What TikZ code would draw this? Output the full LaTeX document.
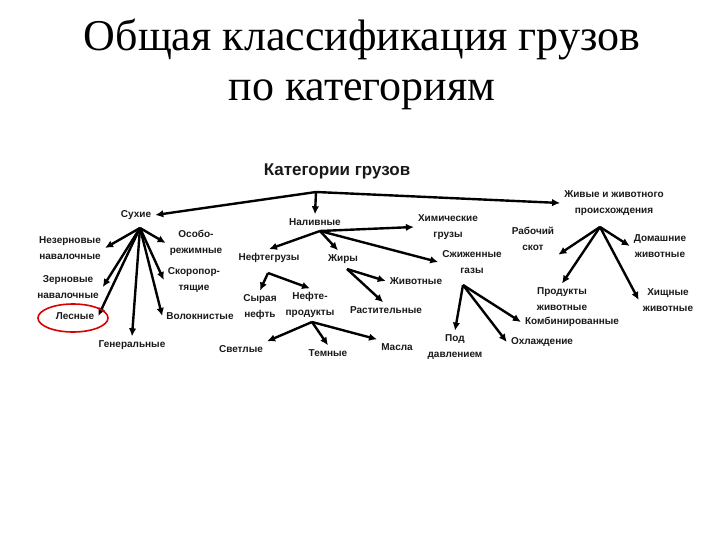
\documentclass[tikz,border=0pt]{standalone}
\usepackage{fontspec}
\setmainfont{Liberation Serif}
\setsansfont{Liberation Sans}
\usetikzlibrary{arrows.meta}

\begin{document}
\begin{tikzpicture}[x=1pt, y=-1pt, >={Latex[length=8pt,width=7.5pt]},
    lbl/.style={font=\sffamily\bfseries\fontsize{10}{15.5}\selectfont,
                align=center, inner sep=4pt, text=black!90},
    arr/.style={->, line width=2.4pt}]

  \useasboundingbox[fill=white] (0,0) rectangle (720,540);

  %--- Title
  \node[font=\fontsize{44}{50}\selectfont, align=center] (title) at (362,64)
    {Общая классификация грузов\\по категориям};

  %--- Root and its tent line
  \node[lbl, font=\sffamily\bfseries\fontsize{17}{19}\selectfont] (cat) at (337,171) {Категории грузов};
  \coordinate (top) at (316,192);

  %--- First level
  \node[lbl] (dry)  at (136,215) {Сухие};
  \node[lbl] (liq)  at (315,222) {Наливные};
  \node[lbl] (live) at (614,203) {Живые и животного\\происхождения};

  \draw[arr] (top) -- (dry.east);
  \draw[arr] (top) -- (live.west);
  \draw[arr] (top) -- (liq.north);

  %--- Dry cargo
  \node[lbl] (neze) at (70,248)  {Незерновые\\навалочные};
  \node[lbl] (osob) at (196,243) {Особо-\\режимные};
  \node[lbl] (skor) at (194,280) {Скоропор-\\тящие};
  \node[lbl] (zern) at (68,287)  {Зерновые\\навалочные};
  \node[lbl] (lesn) at (75,316)  {Лесные};
  \node[lbl] (volo) at (200,316) {Волокнистые};
  \node[lbl] (gen)  at (132,345) {Генеральные};
  \coordinate (dry-o) at (140,228);

  \draw[arr] (dry-o) -- (neze.east);
  \draw[arr] (dry-o) -- (osob.west);
  \draw[arr] (dry-o) -- (zern.east);
  \draw[arr] (dry-o) -- (lesn.east);
  \draw[arr] (dry-o) -- (gen.north);
  \draw[arr] (dry-o) -- (volo.west);
  \draw[arr] (dry-o) -- (skor.west);

  \draw[red!85!black, line width=1.6pt] ([xshift=-2pt,yshift=-2pt]lesn.center) ellipse (35pt and 14pt);

  %--- Liquid cargo
  \node[lbl] (oil)  at (269,258) {Нефтегрузы};
  \node[lbl] (chem) at (448,227) {Химические\\грузы};
  \node[lbl] (fats) at (343,259) {Жиры};
  \node[lbl] (gas)  at (472,262) {Сжиженные\\газы};
  \coordinate (liq-o) at (320,231);

  \draw[arr] (liq-o) -- (oil.north);
  \draw[arr] (liq-o) -- (chem.west);
  \draw[arr] (liq-o) -- (fats.120);
  \draw[arr] (liq-o) -- (gas.west);

  %--- Oil
  \node[lbl] (crude) at (260,307) {Сырая\\нефть};
  \node[lbl] (prod)  at (310,305) {Нефте-\\продукты};
  \coordinate (oil-o) at (268,273);

  \draw[arr] (oil-o) -- (crude.north);
  \draw[arr] (oil-o) -- (prod.north);

  \node[lbl] (light) at (241,349) {Светлые};
  \node[lbl] (dark)  at (328,353) {Темные};
  \node[lbl] (oils)  at (397,347) {Масла};
  \coordinate (prod-o) at (312,322);

  \draw[arr] (prod-o) -- (light.north east);
  \draw[arr] (prod-o) -- (dark.north);
  \draw[arr] (prod-o) -- (oils.north west);

  %--- Fats
  \node[lbl] (anim) at (416,281) {Животные};
  \node[lbl] (veg)  at (386,310) {Растительные};
  \coordinate (fats-o) at (347,269);

  \draw[arr] (fats-o) -- (anim.west);
  \draw[arr] (fats-o) -- (veg.110);

  %--- Liquefied gases
  \node[lbl] (press) at (455,347) {Под\\давлением};
  \node[lbl] (comb)  at (572,322) {Комбинированные};
  \node[lbl] (cool)  at (542,342) {Охлаждение};
  \coordinate (gas-o) at (463,285);

  \draw[arr] (gas-o) -- (press.north);
  \draw[arr] (gas-o) -- (comb.west);
  \draw[arr] (gas-o) -- (cool.west);

  %--- Live cargo
  \node[lbl] (work)  at (533,239) {Рабочий\\скот};
  \node[lbl] (home)  at (660,246) {Домашние\\животные};
  \node[lbl] (aprod) at (562,299) {Продукты\\животные};
  \node[lbl] (pred)  at (668,300) {Хищные\\животные};
  \coordinate (live-o) at (600,227);

  \draw[arr] (live-o) -- (work.south east);
  \draw[arr] (live-o) -- (home.west);
  \draw[arr] (live-o) -- (aprod.north);
  \draw[arr] (live-o) -- (pred.west);

\end{tikzpicture}
\end{document}
